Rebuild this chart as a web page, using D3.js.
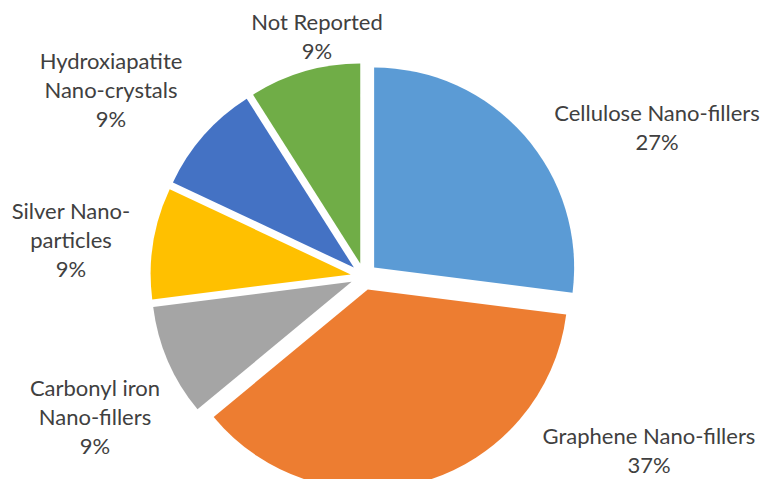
<!DOCTYPE html>
<html>
<head>
<meta charset="utf-8">
<script src="https://cdn.jsdelivr.net/npm/d3@7"></script>
<style>
  html, body { margin: 0; padding: 0; background: #fff; }
  svg { display: block; }
</style>
</head>
<body>
<svg id="chart" width="761" height="479"></svg>
<script>
// Share of studies by nano-filler type
const categories = [
  ["Cellulose Nano-fillers"],
  ["Graphene Nano-fillers"],
  ["Carbonyl iron", "Nano-fillers"],
  ["Silver Nano-", "particles"],
  ["Hydroxiapatite", "Nano-crystals"],
  ["Not Reported"]
];
const values = [27, 37, 9, 9, 9, 9];
const colors = ["#5B9BD5", "#ED7D31", "#A5A5A5", "#FFC000", "#4472C4", "#70AD47"];

// Layout
const width = 761, height = 479;
const cx = 364, cy = 276.5, radius = 200, explode = 13.5;
const fontSize = 22, lineH = 29;
// label block centres (x, y of first line)
const labelAnchors = [
  [657, 112],
  [649, 435],
  [95, 387],
  [71, 210],
  [111, 60],
  [317, 21]
];

const svg = d3.select("#chart");
const g = svg.append("g").attr("transform", `translate(${cx},${cy})`);

const pie = d3.pie().sort(null).value(d => d).startAngle(0).endAngle(2 * Math.PI);
const arcs = pie(values);
const arc = d3.arc().innerRadius(0).outerRadius(radius);

g.selectAll("path.slice")
  .data(arcs)
  .join("path")
  .attr("class", "slice")
  .attr("fill", (d, i) => colors[i])
  .attr("transform", d => {
    const a = (d.startAngle + d.endAngle) / 2;
    return `translate(${explode * Math.sin(a)},${-explode * Math.cos(a)})`;
  })
  .attr("d", arc);

const fmt = v => Math.round(v) + "%";
const total = d3.sum(values);

const labels = svg.append("g")
  .attr("font-family", "Lato, 'Open Sans', sans-serif")
  .attr("font-size", fontSize)
  .attr("fill", "#404040")
  .attr("text-anchor", "middle");

arcs.forEach((d, i) => {
  const [lx, ly] = labelAnchors[i];
  const lines = categories[i].concat([fmt(values[i] / total * 100)]);
  const t = labels.append("text")
    .attr("x", lx)
    .attr("y", ly)
    .attr("dominant-baseline", "central");
  lines.forEach((s, k) => {
    t.append("tspan")
      .attr("x", lx)
      .attr("y", ly + k * lineH)
      .text(s);
  });
});
</script>
</body>
</html>
